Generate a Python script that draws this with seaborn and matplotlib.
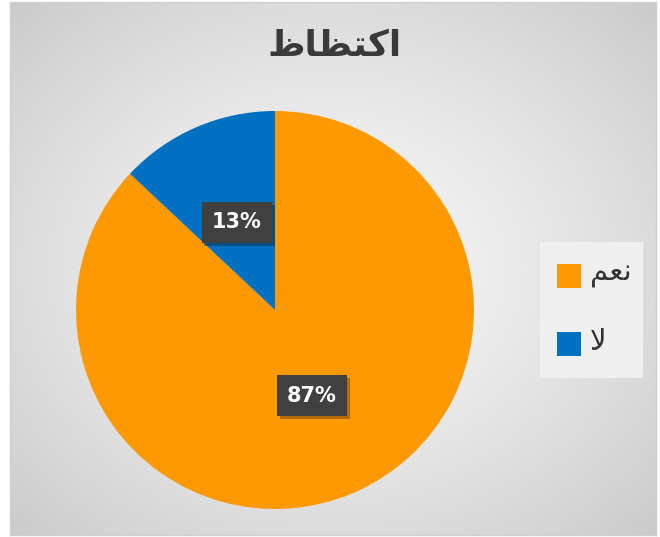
import numpy as np
import seaborn as sns
import matplotlib
matplotlib.use("Agg")
import matplotlib.pyplot as plt
import matplotlib.patheffects as pe

# data
labels = ["نعم", "لا"]
values = [87, 13]
colors = ["#FF9900", "#0070C0"]
title = "اكتظاظ"

# matplotlib has no Arabic shaping, so the shown strings use the
# presentation forms (joined glyphs) in visual order
shaped = {
    "اكتظاظ": "\uFEC5\uFE8E\uFEC8\uFE98\uFEDB\uFE8D",
    "نعم": "\uFEE2\uFECC\uFEE7",
    "لا": "\uFEFB",
}

sns.set_theme(style="white")
plt.rcParams["font.family"] = ["DejaVu Sans"]
palette = sns.color_palette(colors)

W, H = 660, 537
fig = plt.figure(figsize=(W / 100, H / 100), dpi=100)
fig.patch.set_facecolor("white")

# chart area with radial grey gradient
bg = fig.add_axes([10 / W, 2 / H, 646 / W, 533 / H])
yy, xx = np.mgrid[-1:1:300j, -1:1:300j]
r = np.sqrt(xx ** 2 + yy ** 2) / np.sqrt(2)
grad = 0.965 - 0.17 * r ** 1.4
bg.imshow(np.dstack([grad, grad, grad]), extent=[0, 1, 0, 1], aspect="auto")
bg.set_xlim(0, 1)
bg.set_ylim(0, 1)
bg.set_xticks([])
bg.set_yticks([])
for s in bg.spines.values():
    s.set_color("#d0d0d0")
    s.set_linewidth(1)

# title
fig.text(335 / W, 1 - 46 / H, shaped[title], ha="center", va="center",
         fontsize=26, fontweight="bold", color="#3a3a3a")

# pie
cx, cy, rad = 275, 310, 199
ax = fig.add_axes([(cx - rad) / W, (H - cy - rad) / H, 2 * rad / W, 2 * rad / H])
wedges, _ = ax.pie(values, colors=palette, startangle=90, counterclock=False,
                   radius=1, wedgeprops=dict(linewidth=0))
ax.set_xlim(-1, 1)
ax.set_ylim(-1, 1)
ax.set_aspect("equal")
ax.axis("off")

# percentage labels in dark boxes
for w, v in zip(wedges, values):
    theta = np.deg2rad((w.theta1 + w.theta2) / 2)
    d = 0.48 if v < 50 else 0.47
    tx, ty = d * np.cos(theta), d * np.sin(theta)
    ax.text(tx, ty, f"{v}%", ha="center", va="center", fontsize=15,
            fontweight="bold", color="white",
            bbox=dict(boxstyle="square,pad=0.5", facecolor="#404040",
                      edgecolor="none",
                      path_effects=[pe.SimplePatchShadow(offset=(2, -2), shadow_rgbFace="black",
                                                         alpha=0.3),
                                    pe.Normal()]))

# legend
leg_box = fig.add_axes([540 / W, (H - 378) / H, 103 / W, 136 / H])
leg_box.set_facecolor("#efefef")
leg_box.set_xticks([])
leg_box.set_yticks([])
for s in leg_box.spines.values():
    s.set_visible(False)
for i, (lab, col) in enumerate(zip(labels, palette)):
    ycen = 276 + i * 68
    fig.patches.append(plt.Rectangle((557 / W, (H - ycen - 12) / H), 24 / W, 24 / H,
                                     transform=fig.transFigure, facecolor=col,
                                     edgecolor="none"))
    fig.text(590 / W, 1 - (ycen - 2) / H, shaped[lab], ha="left", va="center",
             fontsize=21, color="#333333")

fig.savefig("out.png", dpi=100)
